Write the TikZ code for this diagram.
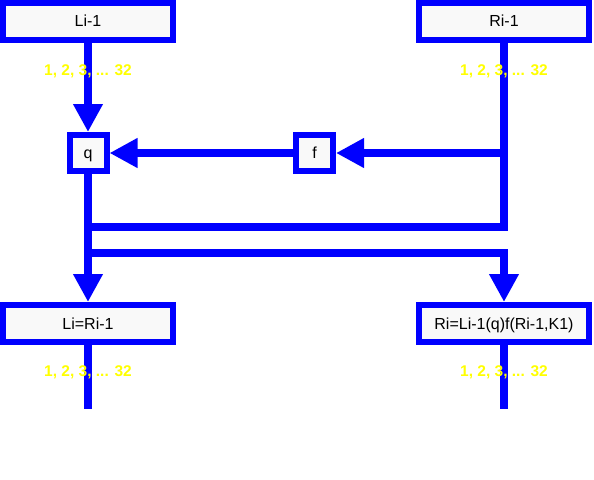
\documentclass[tikz,border=0pt]{standalone}
\usepackage{fontspec}
\setmainfont{Liberation Sans}
\usetikzlibrary{arrows.meta}
\definecolor{lineblue}{RGB}{0,0,255}
\definecolor{boxfill}{RGB}{249,249,249}
\definecolor{labyellow}{RGB}{255,255,0}
\tikzset{
  boxbase/.style={draw=lineblue, fill=boxfill, line width=6pt, inner sep=0pt, text height=11pt, text depth=0pt, font=\fontsize{16}{19}\selectfont},
  wide/.style={boxbase, minimum width=170pt, minimum height=37pt},
  small/.style={boxbase, minimum width=37pt, minimum height=36pt},
  conn/.style={draw=lineblue, line width=8pt},
  arr/.style={conn, -{Triangle[length=28pt,width=28pt]}},
  lab/.style={text=labyellow, font=\fontsize{15.5}{18}\selectfont\bfseries, inner sep=0pt, anchor=base}
}
\begin{document}
\begin{tikzpicture}[x=1pt,y=-1pt]
\useasboundingbox (0,0) rectangle (594,479);
% boxes
\node[wide] (L1) at (88,21.5) {Li-1};
\node[wide] (R1) at (504,21.5) {Ri-1};
\node[small] (q) at (88,153) {q};
\node[small] (f) at (314.5,153) {f};
\node[wide] (L2) at (88,323.5) {Li=Ri-1};
\node[wide] (R2) at (504,323.5) {Ri=Li-1(q)f(Ri-1,K1)};
% junctions and free ends
\coordinate (jR) at (504,153);
\coordinate (jA) at (88,227);
\coordinate (jB) at (88,253);
\coordinate (eL) at (88,409);
\coordinate (eR) at (504,409);
% connectors
\draw[arr] (L1) -- (q);
\draw[conn] (R1) |- (jA);
\draw[arr] (jR) -- (f);
\draw[arr] (f) -- (q);
\draw[arr] (q) -- (L2);
\draw[arr] (jB) -| (R2);
\draw[conn] (L2) -- (eL);
\draw[conn] (R2) -- (eR);
% labels
\node[lab] (t1) at (88,75) {1, 2, 3, ... 32};
\node[lab] (t2) at (504,75) {1, 2, 3, ... 32};
\node[lab] (t3) at (88,376) {1, 2, 3, ... 32};
\node[lab] (t4) at (504,376) {1, 2, 3, ... 32};
\end{tikzpicture}
\end{document}
